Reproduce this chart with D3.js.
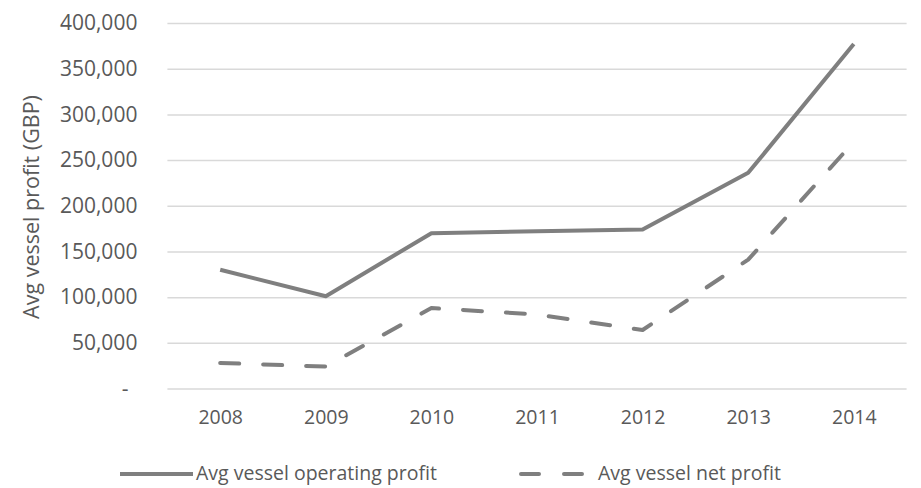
<!DOCTYPE html>
<html>
<head>
<meta charset="utf-8">
<script src="https://cdn.jsdelivr.net/npm/d3@7"></script>
<style>
  html, body { margin: 0; padding: 0; background: #fff; }
  svg { display: block; font-family: "Open Sans", "Noto Sans", sans-serif; }
</style>
</head>
<body>
<svg id="chart" width="921" height="488"></svg>
<script>
// ---- data ----
const years = ["2008", "2009", "2010", "2011", "2012", "2013", "2014"];
const operatingProfit = [130000, 101000, 170000, 172000, 174000, 236000, 377000];
const netProfit = [28000, 24000, 88000, 81000, 64000, 141000, 270000];
const yTicks = [0, 50000, 100000, 150000, 200000, 250000, 300000, 350000, 400000];
const seriesNames = ["Avg vessel operating profit", "Avg vessel net profit"];
const yTitle = "Avg vessel profit (GBP)";

// ---- layout ----
const svg = d3.select("#chart");
const plotLeft = 167.4, plotRight = 906.6, plotTop = 23, plotBottom = 388.5;
const lineColor = "#7f7f7f";
const textColor = "#595959";

const x = d3.scalePoint().domain(years).range([plotLeft, plotRight]).padding(0.5);
const y = d3.scaleLinear().domain([0, 400000]).range([plotBottom, plotTop]);

// gridlines + y labels
const yAxis = d3.axisLeft(y)
  .tickValues(yTicks)
  .tickSize(-(plotRight - plotLeft))
  .tickPadding(30)
  .tickFormat(d => d === 0 ? "-" : d3.format(",")(d));

const gy = svg.append("g").attr("transform", `translate(${plotLeft},0)`).call(yAxis);
gy.select(".domain").remove();
gy.selectAll(".tick line").attr("stroke", "#d9d9d9").attr("stroke-width", 1.5);
gy.selectAll(".tick text")
  .attr("fill", textColor)
  .attr("font-size", 21)
  .attr("font-family", "'Open Sans', sans-serif")
  .attr("dx", d => d === 0 ? -9 : 0);

// x labels
const xAxis = d3.axisBottom(x).tickSize(0).tickPadding(22);
const gx = svg.append("g").attr("transform", `translate(0,${plotBottom})`).call(xAxis);
gx.select(".domain").remove();
gx.selectAll(".tick text")
  .attr("fill", textColor)
  .attr("font-size", 19.5)
  .attr("font-family", "'Open Sans', sans-serif");

// y title
svg.append("text")
  .attr("transform", "translate(39,207) rotate(-90)")
  .attr("text-anchor", "middle")
  .attr("fill", textColor)
  .attr("font-size", 21.5)
  .text(yTitle);

// lines
const line = d3.line().x((d, i) => x(years[i])).y(d => y(d));

svg.append("path")
  .datum(operatingProfit)
  .attr("d", line)
  .attr("fill", "none")
  .attr("stroke", lineColor)
  .attr("stroke-width", 4)
  .attr("stroke-linejoin", "round");

svg.append("path")
  .datum(netProfit)
  .attr("d", line)
  .attr("fill", "none")
  .attr("stroke", lineColor)
  .attr("stroke-width", 4)
  .attr("stroke-linecap", "round")
  .attr("stroke-linejoin", "round")
  .attr("stroke-dasharray", "19,24");

// legend
const lg = svg.append("g");
lg.append("line")
  .attr("x1", 120).attr("x2", 193).attr("y1", 474).attr("y2", 474)
  .attr("stroke", lineColor).attr("stroke-width", 4);
lg.append("text")
  .attr("x", 196).attr("y", 480)
  .attr("fill", textColor).attr("font-size", 19.5)
  .text(seriesNames[0]);
lg.append("line")
  .attr("x1", 521).attr("x2", 584).attr("y1", 474).attr("y2", 474)
  .attr("stroke", lineColor).attr("stroke-width", 4)
  .attr("stroke-linecap", "round")
  .attr("stroke-dasharray", "18,25");
lg.append("text")
  .attr("x", 598).attr("y", 480)
  .attr("fill", textColor).attr("font-size", 19.5)
  .text(seriesNames[1]);
</script>
</body>
</html>
